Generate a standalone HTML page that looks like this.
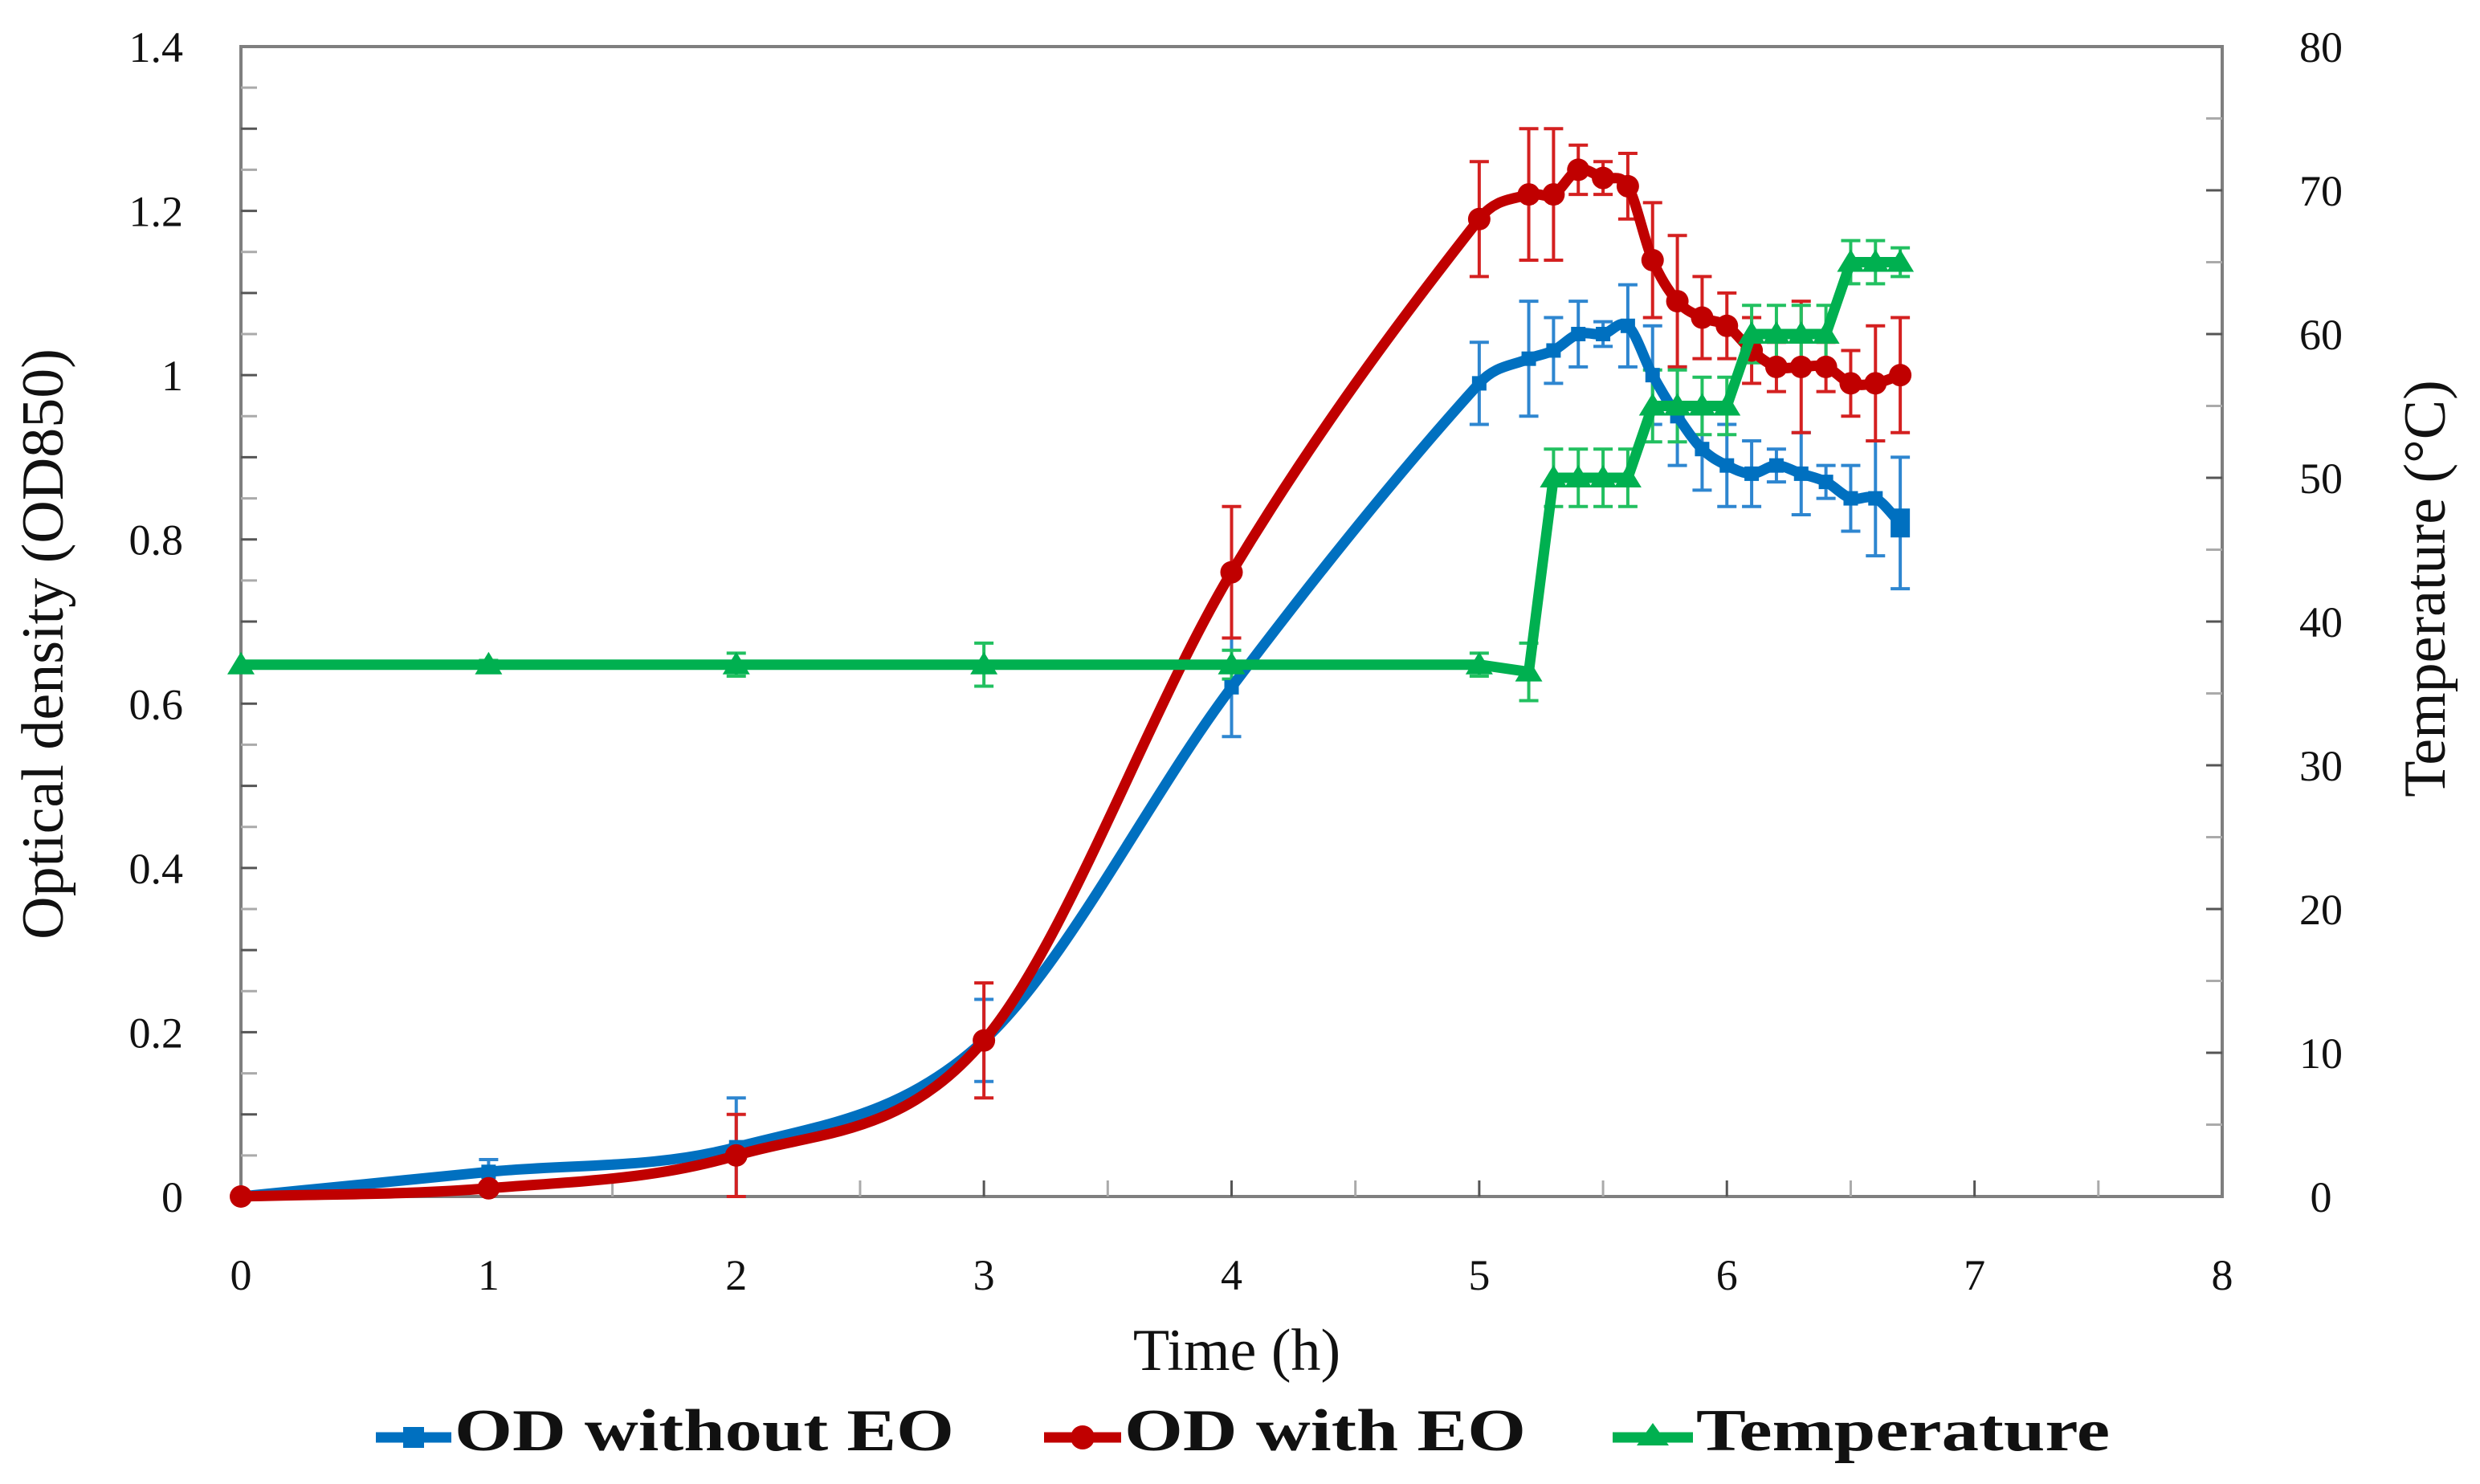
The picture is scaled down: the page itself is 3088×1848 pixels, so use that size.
<!DOCTYPE html>
<html><head><meta charset="utf-8"><style>
html,body{margin:0;padding:0;background:#fff}
svg{display:block}
text{font-family:"Liberation Serif",serif;fill:#111}
</style></head><body>
<svg id="chart" width="3088" height="1848" viewBox="0 0 3088 1848" xmlns="http://www.w3.org/2000/svg">
<rect x="0" y="0" width="3088" height="1848" fill="#fff"/>
<g id="axes"></g>
<g id="series"></g>
<text x="1540" y="1706" font-size="74" text-anchor="middle">Time (h)</text>
<text transform="translate(78,802) rotate(-90)" font-size="74" text-anchor="middle">Optical density (OD850)</text>
<text transform="translate(3044,733) rotate(-90)" font-size="74" text-anchor="middle">Temperature (°C)</text>
<g>
  <g>
    <line x1="468" y1="1790" x2="562" y2="1790" stroke="#0070C0" stroke-width="13"/>
    <rect x="502" y="1777" width="26" height="26" fill="#0070C0"/>
    <text x="566" y="1806" font-size="74" font-weight="bold" textLength="622" lengthAdjust="spacingAndGlyphs">OD without EO</text>
  </g>
  <g>
    <line x1="1300" y1="1790" x2="1396" y2="1790" stroke="#C00000" stroke-width="13"/>
    <circle cx="1348" cy="1790" r="15" fill="#C00000"/>
    <text x="1400" y="1806" font-size="74" font-weight="bold" textLength="500" lengthAdjust="spacingAndGlyphs">OD with EO</text>
  </g>
  <g>
    <line x1="2008" y1="1790" x2="2108" y2="1790" stroke="#00B050" stroke-width="13"/>
    <polygon points="2058,1772 2078,1800 2038,1800" fill="#00B050"/>
    <text x="2112" y="1806" font-size="74" font-weight="bold" textLength="515" lengthAdjust="spacingAndGlyphs">Temperature</text>
  </g>
</g>
</svg>
<script>
const times = [0,1,2,3,4,5,5.2,5.3,5.4,5.5,5.6,5.7,5.8,5.9,6.0,6.1,6.2,6.3,6.4,6.5,6.6,6.7];
const odWithout = [0,0.03,0.06,0.19,0.62,0.99,1.02,1.03,1.05,1.05,1.06,1.0,0.95,0.91,0.89,0.88,0.89,0.88,0.87,0.85,0.85,0.82];
const odWithoutErr = [0,0.015,0.06,0.05,0.06,0.05,0.07,0.04,0.04,0.015,0.05,0.06,0.06,0.05,0.05,0.04,0.02,0.05,0.02,0.04,0.07,0.08];
const odWith = [0,0.01,0.05,0.19,0.76,1.19,1.22,1.22,1.25,1.24,1.23,1.14,1.09,1.07,1.06,1.03,1.01,1.01,1.01,0.99,0.99,1.0];
const odWithErr = [0,0.005,0.05,0.07,0.08,0.07,0.08,0.08,0.03,0.02,0.04,0.07,0.08,0.05,0.04,0.04,0.03,0.08,0.03,0.04,0.07,0.07];
const tempTimes = [0,1,2,3,4,5,5.2,5.3,5.4,5.5,5.6,5.7,5.8,5.9,6.0,6.1,6.2,6.3,6.4,6.5,6.6,6.7];
const temps = [37,37,37,37,37,37,36.5,50,50,50,50,55,55,55,55,60,60,60,60,65,65,65];
const tempErr = [0,0.3,0.8,1.5,1.0,0.8,2.0,2.0,2.0,2.0,2.0,2.5,2.5,2.0,2.0,2.0,2.0,2.0,2.0,1.5,1.5,1.0];
const xTicks = [0,1,2,3,4,5,6,7,8];
const yTicks = [0,0.2,0.4,0.6,0.8,1,1.2,1.4];
const y2Ticks = [0,10,20,30,40,50,60,70,80];

const L=300,R=2767,T=58,B=1490;
const xs = t => L + (R-L)*t/8;
const ys = v => B - (B-T)*v/1.4;
const y2s = v => B - (B-T)*v/80;
const NS='http://www.w3.org/2000/svg';
function mk(tag, attrs, parent){const e=document.createElementNS(NS,tag);for(const k in attrs)e.setAttribute(k,attrs[k]);parent.appendChild(e);return e;}
const axes=document.getElementById('axes'), series=document.getElementById('series');

const frame=mk('rect',{x:L,y:T,width:R-L,height:B-T,fill:'none',stroke:'#7f7f7f','stroke-width':4},axes);


for(let i=1;i<28;i++){const y=ys(i*0.05);
  const tk=mk('line',{x1:L,y1:y,x2:L+20,y2:y,stroke:i%2?'#aaa':'#555','stroke-width':3},axes);
  
  }
for(let i=1;i<16;i++){const y=y2s(i*5);
  const tk=mk('line',{x1:R-20,y1:y,x2:R,y2:y,stroke:i%2?'#aaa':'#555','stroke-width':3},axes);
  
  }
for(let i=1;i<16;i++){const x=xs(i*0.5);
  const tk=mk('line',{x1:x,y1:B-20,x2:x,y2:B,stroke:i%2?'#aaa':'#555','stroke-width':3},axes);
  
  }
yTicks.forEach(v=>{const t=mk('text',{x:228,y:ys(v)+19,'font-size':54,'text-anchor':'end'},axes);t.textContent=String(v);
  
  });
y2Ticks.forEach(v=>{const t=mk('text',{x:2890,y:y2s(v)+19,'font-size':54,'text-anchor':'middle'},axes);t.textContent=String(v);
  
  });
xTicks.forEach(v=>{const t=mk('text',{x:xs(v),y:1606,'font-size':54,'text-anchor':'middle'},axes);t.textContent=String(v);
  
  });

function smooth(pts){
  const n=pts.length, m=[];
  for(let i=0;i<n;i++){
    const a=pts[Math.max(0,i-1)], b=pts[Math.min(n-1,i+1)];
    m.push((b[1]-a[1])/(b[0]-a[0]));
  }
  let d='M'+pts[0][0]+','+pts[0][1];
  for(let i=0;i<n-1;i++){
    const p1=pts[i],p2=pts[i+1],dx=(p2[0]-p1[0])/3;
    d+=' C'+(p1[0]+dx)+','+(p1[1]+m[i]*dx)+' '+(p2[0]-dx)+','+(p2[1]-m[i+1]*dx)+' '+p2[0]+','+p2[1];
  }
  return d;
}
function errBars(tArr,vArr,eArr,sy,color,name){
  const g=mk('g',{},series);
  
  
  tArr.forEach((t,i)=>{if(!eArr[i])return;const x=xs(t),y1=sy(vArr[i]-eArr[i]),y2=sy(vArr[i]+eArr[i]);
    mk('line',{x1:x,y1:y1,x2:x,y2:y2,stroke:color,'stroke-width':4},g);
    mk('line',{x1:x-12,y1:y1,x2:x+12,y2:y1,stroke:color,'stroke-width':4},g);
    mk('line',{x1:x-12,y1:y2,x2:x+12,y2:y2,stroke:color,'stroke-width':4},g);});
}
errBars(times,odWithout,odWithoutErr,ys,'#2E86D0','error-bars-od-without-eo');
errBars(times,odWith,odWithErr,ys,'#D42020','error-bars-od-with-eo');
errBars(tempTimes,temps,tempErr,y2s,'#22C060','error-bars-temperature');

const bl=mk('path',{d:smooth(times.map((t,i)=>[xs(t),ys(odWithout[i])])),fill:'none',stroke:'#0070C0','stroke-width':13,'stroke-linejoin':'round'},series);


times.forEach((t,i)=>{const last=i===times.length-1;const s=last?24:18;const m=mk('rect',{x:xs(t)-s/2,y:ys(odWithout[i])-s/2-(last?6:0),width:s,height:s+(last?12:0),fill:'#0070C0'},series);
  
  });
const rl=mk('path',{d:smooth(times.map((t,i)=>[xs(t),ys(odWith[i])])),fill:'none',stroke:'#C00000','stroke-width':13,'stroke-linejoin':'round'},series);


times.forEach((t,i)=>{const m=mk('circle',{cx:xs(t),cy:ys(odWith[i]),r:14,fill:'#C00000'},series);
  
  });
const gl=mk('path',{d:'M'+tempTimes.map((t,i)=>xs(t)+','+y2s(temps[i])).join(' L'),fill:'none',stroke:'#00B050','stroke-width':13,'stroke-linejoin':'round'},series);


tempTimes.forEach((t,i)=>{const x=xs(t),y=y2s(temps[i]);
  const m=mk('polygon',{points:`${x},${y-16} ${x+17},${y+12} ${x-17},${y+12}`,fill:'#00B050'},series);
  
  });
</script>
</body></html>
